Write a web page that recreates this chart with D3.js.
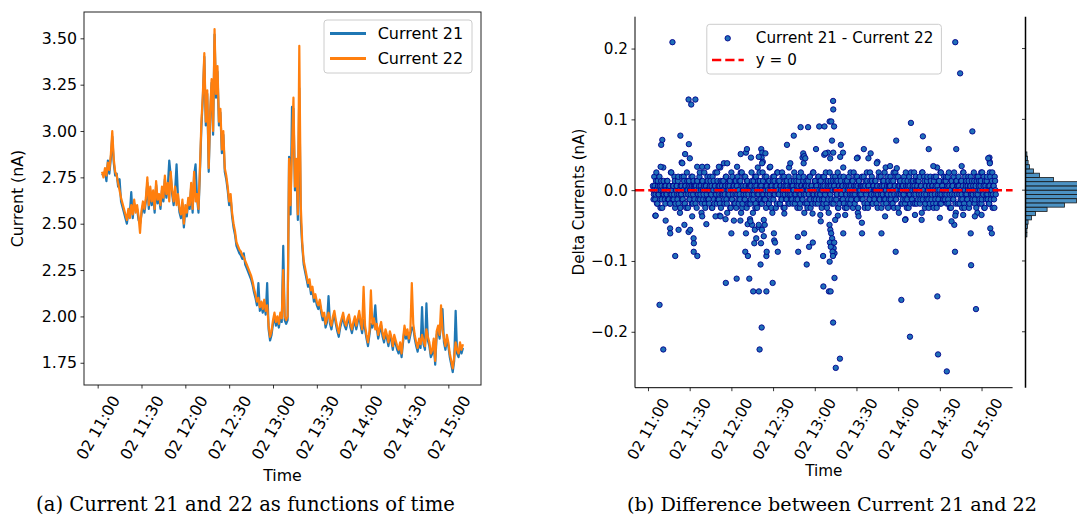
<!DOCTYPE html>
<html lang="en">
<head>
<meta charset="utf-8">
<title>Current 21 and 22</title>
<script src="https://cdn.jsdelivr.net/npm/d3@7"></script>
<style>
body { margin: 0; background: #fff; }
svg { display: block; }
</style>
</head>
<body>
<script>
// minutes after 02 11:00 ; currents sampled once a minute from 11:03
var lineStart = 3;
var current21 = [
 2.76,2.77,2.78,2.73,2.84,2.77,2.85,2.97,2.83,2.76,
 2.77,2.70,2.74,2.62,2.59,2.56,2.53,2.50,2.56,2.55,
 2.67,2.53,2.61,2.58,2.58,2.52,2.50,2.55,2.60,2.56,
 2.62,2.72,2.58,2.68,2.60,2.66,2.56,2.71,2.61,2.64,
 2.58,2.68,2.62,2.74,2.64,2.70,2.84,2.76,2.66,2.60,
 2.68,2.82,2.64,2.56,2.53,2.61,2.48,2.58,2.54,2.62,
 2.58,2.70,2.56,2.76,2.82,2.64,2.56,2.78,3.02,3.18,
 3.40,3.03,3.20,2.78,3.08,3.26,2.98,3.52,3.18,3.32,
 3.03,3.10,2.88,2.98,2.78,2.74,2.68,2.60,2.64,2.54,
 2.48,2.44,2.38,2.36,2.34,2.33,2.31,2.34,2.28,2.26,
 2.24,2.22,2.20,2.17,2.13,2.10,2.06,2.18,2.03,2.06,
 2.02,2.07,2.01,2.18,1.93,1.87,1.90,1.96,2.00,1.95,
 1.98,1.94,2.00,1.97,2.38,1.98,1.96,1.98,2.86,2.55,
 3.13,3.12,2.68,2.80,2.52,3.23,2.52,2.38,2.28,2.24,
 2.20,2.16,2.18,2.12,2.14,2.08,2.10,2.06,2.04,2.07,
 2.02,1.98,2.00,1.94,1.97,2.11,1.96,1.93,1.98,2.01,
 1.96,1.92,1.89,1.94,1.97,2.00,1.95,1.93,1.97,1.99,
 1.94,1.91,1.95,1.98,1.93,1.97,2.01,1.95,1.91,1.98,
 1.93,1.88,1.84,1.90,1.96,1.94,1.97,2.06,1.94,1.88,
 1.92,1.95,1.89,1.86,1.91,1.88,1.84,1.90,1.87,1.82,
 1.88,1.85,1.82,1.80,1.84,1.78,1.86,1.93,1.88,1.91,
 1.86,1.90,1.94,1.94,1.88,1.84,1.81,1.86,1.83,2.05,
 1.85,1.82,2.07,1.87,1.84,1.78,1.80,1.86,1.74,1.90,
 1.93,1.88,1.96,2.04,1.86,1.82,1.88,1.84,1.78,1.74,
 1.70,1.76,2.03,1.80,1.78,1.84,1.80,1.83
];
var current22 = [
 2.78,2.75,2.80,2.76,2.83,2.79,2.87,3.00,2.85,2.78,
 2.76,2.72,2.68,2.64,2.61,2.58,2.55,2.52,2.58,2.53,
 2.60,2.55,2.63,2.56,2.60,2.54,2.45,2.57,2.62,2.58,
 2.64,2.75,2.60,2.70,2.62,2.68,2.58,2.73,2.63,2.66,
 2.60,2.70,2.64,2.76,2.66,2.72,2.62,2.78,2.68,2.62,
 2.70,2.60,2.66,2.58,2.55,2.63,2.50,2.60,2.56,2.64,
 2.60,2.72,2.58,2.78,2.62,2.66,2.58,2.80,3.05,3.20,
 3.42,3.05,3.22,2.80,3.10,3.28,3.00,3.55,3.20,3.35,
 3.05,3.12,2.90,3.00,2.80,2.76,2.70,2.62,2.66,2.56,
 2.50,2.46,2.40,2.38,2.36,2.35,2.33,2.32,2.30,2.28,
 2.26,2.24,2.22,2.19,2.15,2.12,2.08,2.10,2.05,2.08,
 2.04,2.09,2.03,2.06,1.95,1.89,1.92,1.98,2.02,1.97,
 2.00,1.96,2.02,1.99,2.25,2.00,1.98,2.00,2.85,2.60,
 2.90,3.18,2.70,2.85,2.55,3.46,2.60,2.40,2.30,2.26,
 2.22,2.18,2.20,2.14,2.16,2.10,2.12,2.08,2.06,2.09,
 2.04,2.00,2.02,1.96,1.99,2.02,1.98,1.95,2.00,2.03,
 1.98,1.94,1.91,1.96,1.99,2.02,1.97,1.95,1.99,2.01,
 1.96,1.93,1.97,2.00,1.95,1.99,2.03,1.97,1.93,2.16,
 1.95,1.90,1.86,1.92,2.14,1.96,1.99,1.93,1.96,1.90,
 1.94,1.97,1.91,1.88,1.93,1.90,1.86,1.92,1.89,1.84,
 1.90,1.87,1.84,1.82,1.86,1.80,1.88,1.95,1.90,1.93,
 1.88,1.92,2.18,1.96,1.90,1.86,1.83,1.88,1.85,1.90,
 1.87,1.84,1.93,1.89,1.86,1.80,1.82,1.88,1.76,1.92,
 1.95,1.90,2.06,1.93,1.88,1.84,1.90,1.86,1.80,1.76,
 1.72,1.78,1.86,1.82,1.80,1.86,1.82,1.85
];

// Current 21 - Current 22, samples on the half minute from 11:03:30
var deltaAStart = 3.5, deltaStep = 0.5;
var deltaA = [
 .006,-.013,.019,0,-.006,.025,-.019,.013,-.006,0,.006,-.025,.013,-.013,0,.032,-.006,.006,-.019,0,
 -.006,.013,0,-.013,.006,-.019,.025,-.006,0,.006,-.013,.019,-.025,0,.006,-.006,.013,-.019,0,-.032,
 .006,-.006,.019,-.013,0,.013,-.019,.006,-.025,.025,0,-.006,.013,-.013,.006,0,-.019,.019,-.006,.006,
 -.013,0,.006,-.025,.013,-.006,0,.019,-.013,.006,-.032,.013,0,-.006,.025,-.019,.006,-.013,0,.013,
 0,-.019,.006,.013,-.006,-.025,.019,0,-.013,.006,.025,-.006,-.019,.013,0,-.013,.006,.032,-.025,-.006,
 .013,-.006,0,-.019,.006,.019,-.013,-.032,.006,0,-.006,.013,-.025,.025,-.013,0,.006,-.019,.013,-.006,
 -.025,.006,.019,-.013,0,-.006,.013,-.032,.025,-.019,.006,0,-.013,.019,-.006,-.025,.013,0,.006,-.019,
 .006,-.013,.025,-.006,-.032,.013,0,.019,-.019,.006,-.025,.032,-.006,0,.013,-.013,.006,-.019,.025,-.006,
 -.013,.019,0,-.025,.006,-.006,.013,-.019,.032,0,-.013,.006,-.032,.019,-.006,.013,0,-.025,.006,.025,
 0,-.006,.013,-.019,.006,-.013,.025,0,-.025,.019,-.006,.006,-.013,.013,0,-.019,.032,-.006,.006,-.013,
 .006,-.019,0,.013,-.006,.019,-.013,.006,-.025,0,.013,-.006,-.019,.025,.006,-.013,0,.019,-.032,.006,
 -.006,.013,-.019,0,.006,-.013,.019,-.025,.006,0,-.006,.025,-.013,.013,-.019,.006,0,-.006,.019,-.013,
 .013,-.006,.006,-.025,0,.019,-.013,.006,-.006,.025,-.019,0,.013,-.032,.006,-.006,.013,-.013,0,.019,
 -.019,.006,0,.013,-.013,-.006,.025,-.025,.006,0,.019,-.006,-.013,.006,.032,-.019,0,.013,-.006,-.025,
 .006,-.013,.019,0,-.019,.006,-.006,.013,-.025,.025,0,-.006,.006,-.013,.019,-.032,.013,0,-.006,.006,
 -.006,.019,-.013,.006,0,-.025,.013,-.006,.025,-.019,.006,0,-.013,.013,-.006,.019,-.019,.006,0,-.013,
 .013,0,-.019,.006,-.006,.025,-.013,0,.019,-.025,.006,-.006,.013,-.013,0,.032,-.019,.006,-.006,.013,
 -.013,.006,.019,-.006,0,-.019,.013,-.025,.006,.025,-.013,0,-.006,.019,-.032,.006,.013,-.006,0,-.019,
 .006,-.006,.013,-.019,.025,0,-.013,.006,-.025,.019,-.006,0,.013,-.013,.006,-.019,.025,0,-.006,.013,
 -.019,.013,0,-.006,.019,-.013,.006,-.032,.025,0,-.006,.013,-.019,.006,-.013,.019,0,-.025,.006,-.006,
 .013,-.013,.006,0,-.025,.019,-.006,.006,-.019,.032,0,-.013,.013,-.006,.025,-.019,.006,0,-.013,.019,
 -.006,0,.019,-.019,.006,-.013,.025,-.006,0,-.025,.013,.006,-.013,.019,-.006,0,-.032,.013,.006,-.019,
 .019,-.006,0,-.013,.013,-.025,.006,.025,-.019,0,-.006,.013,-.013,.006,.019,-.025,0,.006,-.006,.013,
 -.013,.006,.025,-.019,0,-.006,.013,-.032,.019,.006,-.013,0,.013,-.019,.025,-.006,.006,-.025,.013,0,
 -.006,.019,-.013,.006,-.019,.025,0,-.006,.013,-.025,.006,-.013,.019,0
];
// samples a quarter minute later, from 11:03:45
var deltaBStart = 3.75;
var deltaB = [
 0,-.006,.006,-.013,.013,0,-.019,.006,-.006,.019,-.013,0,.006,-.025,-.006,.013,0,-.013,.006,-.006,
 .013,-.013,0,.006,-.019,-.006,.025,0,-.013,.006,-.006,.013,-.019,0,.006,-.013,.019,-.006,0,-.025,
 -.006,.006,-.013,0,.019,-.019,.006,-.006,0,.013,-.025,.006,-.013,0,-.006,.019,.006,-.019,.013,0,
 .006,-.019,0,.013,-.006,-.013,.006,.025,-.006,0,-.019,.013,-.013,.006,0,-.025,.006,-.006,.019,-.013,
 -.013,0,.019,-.006,.006,-.025,0,.013,-.019,.006,-.006,0,.025,-.013,.006,-.006,-.019,.013,0,.006,
 0,.013,-.013,-.006,.006,.019,-.019,0,-.006,.013,.006,-.025,0,-.013,.019,-.006,.006,0,-.019,.013,
 .006,-.006,0,-.019,.013,-.013,.025,.006,-.025,0,-.006,.019,-.013,.006,0,.013,-.019,-.006,.006,0,
 -.019,.006,.013,0,-.013,-.006,.006,-.025,.019,0,-.006,.013,-.013,.025,.006,-.019,0,-.006,.013,-.013,
 0,-.013,.006,.019,-.006,0,-.019,.013,-.006,.006,-.025,0,.013,-.013,.019,-.006,.006,0,-.019,.025,
 .013,-.006,-.019,.006,0,-.013,.019,-.006,.006,-.025,.013,0,-.013,.006,-.006,.019,-.019,0,.013,-.006,
 -.013,.006,0,.025,-.019,-.006,.013,0,-.013,.006,.019,-.025,-.006,.006,0,-.013,.013,-.006,.006,-.019,
 .006,0,-.025,.013,-.006,.019,-.013,0,.006,-.019,.025,-.006,0,.013,-.013,.006,-.006,-.019,.019,0,
 -.006,.013,0,-.013,.006,-.019,.019,-.006,0,.013,-.025,.006,-.013,0,.025,-.006,.006,-.019,0,.013,
 .006,-.013,.019,0,-.006,.013,-.025,.006,-.019,0,.013,-.006,.006,-.013,.019,0,-.025,.006,-.006,.013,
 0,-.019,.006,-.006,.025,-.013,0,.013,-.006,.006,-.019,.019,0,-.013,.006,-.025,.013,-.006,0,.006,
 -.013,.006,0,.019,-.019,.006,-.006,0,.013,-.025,.006,-.013,.025,0,-.006,.013,-.019,.006,-.006,0,
 .013,-.006,.006,-.025,0,.019,-.013,.006,-.006,0,.013,-.019,.006,.025,-.013,0,-.006,.019,-.025,.006,
 0,.006,-.013,.013,-.019,0,.025,-.006,.006,-.013,.019,0,-.025,.006,-.006,.013,0,-.019,.006,-.013,
 -.006,.019,0,-.013,.006,-.025,.013,0,-.006,.006,-.019,.025,-.013,0,.013,-.006,.006,-.019,.019,0,
 .006,-.013,.013,0,-.019,.006,-.006,.025,-.013,0,.019,-.025,.006,-.006,.013,0,-.013,.006,-.019,.019,
 0,-.006,.006,-.019,.013,0,-.013,.019,-.025,.006,-.006,.013,0,-.019,.025,-.006,.006,-.013,0,.013,
 -.013,.013,-.006,0,.019,-.019,.006,-.025,0,.013,-.006,.006,-.013,.025,0,-.019,.013,-.006,.006,0,
 .006,-.019,0,.013,-.006,-.013,.025,0,-.025,.019,.006,-.006,-.013,0,.013,-.019,.006,.019,-.006,0,
 -.006,0,.013,-.013,.006,-.025,.019,-.006,0,.013,-.019,.006,.025,-.013,0,-.006,.019,-.025,.006,-.013,
 .013,-.006,0,-.019,.006,.019,-.013,0,.025,-.006,.006,-.025,.013,-.006
];

// points off the dense band: [minutes after 11:00, delta]
var deltaOff = [
 [17.6,.209],[10.3,.071],[9.5,.064],[23.3,.077],[29.4,.065],[24.2,.039],[26.7,.051],[30.1,.045],
 [29.2,.128],[34.1,.128],[31.1,.121],[66.7,.051],[70.5,.053],[71.2,.058],[74.1,.046],[81.5,.058],
 [82.2,.053],[81.8,.046],[82.6,.040],[100,.064],[104.9,.077],[109.8,.089],[115.2,.089],[111.2,.046],
 [111.7,.052],[112.4,.048],[120.9,.058],[123.2,.090],[127,.090],[130.7,.097],[131.9,.097],[133.9,.090],
 [133.2,.126],[133.3,.114],[132.4,.070],[138.8,.064],[126.8,.050],[129.5,.053],[133.3,.053],[140.3,.053],
 [150.9,.046],[155.3,.058],[160.2,.052],[165.1,.040],[178.6,.070],[189.2,.095],[197.8,.076],[202,.058],
 [221.1,.209],[224.6,.165],[221.8,.058],[233.4,.083],[245.7,.046],[245.9,.040],
 [9.1,.033],[24.7,.038],[35.4,.033],[39,.033],[42.6,.033],[51,.033],[54.6,.038],[57,.038],[64.1,.033],
 [79.7,.047],[82.1,.038],[84.5,.052],[88,.033],[102.4,.038],[112,.038],[113.2,.045],[127.6,.052],
 [131.1,.045],[138.3,.047],[150.3,.045],[158.6,.045],[164.6,.038],[174.2,.034],[179,.031],[205.3,.034],
 [225.7,.034],[244.8,.045],[246,.038],
 [5.3,-.036],[15.9,-.054],[16,-.061],[22,-.056],[26.2,-.049],[29.2,-.059],[30.4,-.056],[32.8,-.068],
 [42,-.048],[51.5,-.036],[55.8,-.041],[60,-.061],[70.5,-.061],[71.7,-.048],[73.4,-.041],[74.9,-.049],
 [76.9,-.056],[77.9,-.068],[79.6,-.052],[82,-.056],[83.3,-.065],[84,-.049],[90.6,-.061],[90.8,-.071],
 [98.1,-.033],[107.8,-.066],[112.3,-.061],[118.4,-.033],[130.6,-.049],[131.2,-.056],[131.8,-.061],
 [132.5,-.068],[133,-.075],[133.6,-.082],[134.2,-.089],[136.6,-.036],[140.5,-.061],[154,-.061],
 [168,-.061],[185.3,-.041],[220.4,-.049],[221.1,-.036],[232.2,-.061],[246.3,-.054],[247.4,-.061],
 [19.6,-.093],[32.9,-.087],[35.5,-.093],[33,-.075],[56,-.131],[63.8,-.125],[70,-.087],[71.9,-.093],
 [72.9,-.125],[75.7,-.143],[79.8,-.143],[85.2,-.143],[81,-.105],[81.8,-.194],[80.3,-.225],[85.2,-.093],
 [85.4,-.087],[89.7,-.131],[91.4,-.074],[93.4,-.087],[76.5,-.075],[81.3,-.075],[108.1,-.087],
 [114.2,-.105],[115.9,-.080],[118.6,-.074],[126,-.093],[126.2,-.136],[130.7,-.101],[130.2,-.143],
 [131.4,-.143],[130.9,-.074],[131.5,-.080],[132.8,-.087],[133.1,-.093],[134,-.074],[134.2,-.124],
 [133.2,-.187],[135.1,-.251],[138.1,-.238],[178.2,-.087],[182.3,-.155],[188.5,-.207],[208.2,-.150],
 [208.7,-.232],[215,-.256],[220.9,-.087],[232.5,-.106],[236,-.168],[8.3,-.162],[11,-.225],
 [5.5,-.036],[12.7,-.043],[31.8,-.037],[39,-.037],[48.6,-.037],[52.2,-.037],[61.8,-.043],[66.5,-.043],
 [73.7,-.044],[79.7,-.049],[83.3,-.042],[124,-.035],[124.3,-.044],[134.7,-.042],[141.9,-.035],
 [151.5,-.037],[153.9,-.046],[170.6,-.037],[185,-.042],[192.1,-.035],[196.9,-.042],[210,-.039],
 [218.4,-.044],[226.8,-.035],[235.2,-.037],[240,-.035]
];

// marginal histogram of the differences
var histWidth = 0.006;
var histLo = [-0.066,-0.060,-0.054,-0.048,-0.042,-0.036,-0.030,-0.024,-0.018,-0.012,
              -0.006,0.000,0.006,0.012,0.018,0.024,0.030,0.036,0.042,0.048];
var histCount = [7,7,10,13,30,50,108,195,255,300,
                 310,300,265,140,70,40,20,13,10,7];

var timeTicks = ["11:00","11:30","12:00","12:30","13:00","13:30","14:00","14:30","15:00"];
var currentTicks = [1.75,2.00,2.25,2.50,2.75,3.00,3.25,3.50];
var deltaTicks = [-0.2,-0.1,0.0,0.1,0.2];
var seriesNames = ["Current 21","Current 22"];
var captions = ["(a) Current 21 and 22 as functions of time","(b) Difference between Current 21 and 22"];

var day = new Date(2023, 0, 2, 11, 0, 0);
function at(min) { return new Date(day.getTime() + min * 60000); }
function hm(s) { var p = s.split(":"); return new Date(2023, 0, 2, +p[0], +p[1]); }

var W = 1077, H = 516;
var svg = d3.select("body").append("svg")
	.attr("width", W).attr("height", H)
	.style("font-family", "'DejaVu Sans', sans-serif");
svg.append("rect").attr("width", W).attr("height", H).attr("fill", "#fff");

var tickDates = timeTicks.map(hm);
var fmtTime = d3.timeFormat("%d %H:%M");

function styleAxis(g, fs) {
	g.attr("font-family", null).attr("font-size", fs);
	g.select(".domain").remove();
	g.selectAll(".tick line").attr("stroke", "#000").attr("stroke-width", 0.8);
	g.selectAll(".tick text").attr("fill", "#000");
}
// matplotlib style: rotated 60deg, box centred under the tick
function rotateLabels(g, top) {
	g.selectAll(".tick text").each(function() {
		var t = d3.select(this);
		var L = this.getComputedTextLength();
		var fs = parseFloat(g.attr("font-size"));
		var bh = L * Math.sin(Math.PI / 3) + fs * 1.16 * 0.5;
		t.attr("y", null).attr("dy", null)
			.attr("text-anchor", "middle").attr("dominant-baseline", "central")
			.attr("transform", "translate(0," + (top + bh / 2) + ") rotate(-60)");
	});
}

// ---------- (a) currents vs time
var xA = d3.scaleTime().domain([at(-9.35), at(262.35)]).range([84, 481]);
var yA = d3.scaleLinear().domain([1.630, 3.642]).range([385, 12]);

var line = d3.line()
	.x(function(d, i) { return xA(at(lineStart + i)); })
	.y(function(d) { return yA(d); });

svg.append("path").datum(current21).attr("d", line)
	.attr("fill", "none").attr("stroke", "#1f77b4").attr("stroke-width", 2.2).attr("stroke-linejoin", "round");
svg.append("path").datum(current22).attr("d", line)
	.attr("fill", "none").attr("stroke", "#ff7f0e").attr("stroke-width", 2.2).attr("stroke-linejoin", "round");

svg.append("rect").attr("x", 84).attr("y", 12).attr("width", 397).attr("height", 373)
	.attr("fill", "none").attr("stroke", "#222").attr("stroke-width", 1);

var gxA = svg.append("g").attr("transform", "translate(0,385)")
	.call(d3.axisBottom(xA).tickValues(tickDates).tickFormat(fmtTime).tickSize(3.5).tickPadding(3.5));
styleAxis(gxA, 15.8);
rotateLabels(gxA, 7.5);
var gyA = svg.append("g").attr("transform", "translate(84,0)")
	.call(d3.axisLeft(yA).tickValues(currentTicks).tickFormat(d3.format(".2f")).tickSize(3.5).tickPadding(3.5));
styleAxis(gyA, 15.8);

svg.append("text").attr("transform", "translate(17.5,198.5) rotate(-90)")
	.attr("text-anchor", "middle").attr("dominant-baseline", "central")
	.attr("font-size", 15.8).text("Current (nA)");
svg.append("text").attr("x", 282.5).attr("y", 481).attr("text-anchor", "middle")
	.attr("font-size", 15.8).text("Time");

var legA = svg.append("g");
legA.append("rect").attr("x", 324).attr("y", 20).attr("width", 148).attr("height", 53).attr("rx", 3)
	.attr("fill", "#fff").attr("fill-opacity", 0.8).attr("stroke", "#ccc");
var legColors = ["#1f77b4", "#ff7f0e"];
seriesNames.forEach(function(name, i) {
	var y = 33.5 + i * 25;
	legA.append("line").attr("x1", 330).attr("x2", 366).attr("y1", y).attr("y2", y)
		.attr("stroke", legColors[i]).attr("stroke-width", 3);
	legA.append("text").attr("x", 377.7).attr("y", y).attr("dominant-baseline", "central")
		.attr("font-size", 16).text(name);
});

// ---------- (b) differences
var xB = d3.scaleTime().domain([at(-9.35), at(262.35)]).range([635, 1012.6]);
var yB = d3.scaleLinear().domain([-0.279, 0.245]).range([387.7, 16.7]);

var pts = deltaA.map(function(v, i) { return [deltaAStart + i * deltaStep, v]; })
	.concat(deltaB.map(function(v, i) { return [deltaBStart + i * deltaStep, v]; }))
	.sort(function(a, b) { return a[0] - b[0]; })
	.concat(deltaOff);
svg.append("g").selectAll("circle").data(pts).enter().append("circle")
	.attr("cx", function(d) { return xB(at(d[0])); })
	.attr("cy", function(d) { return yB(d[1]); })
	.attr("r", 2.7)
	.attr("fill", "#1f6fb8").attr("stroke", "#00008b").attr("stroke-width", 0.9);

svg.append("line").attr("x1", 635).attr("x2", 1012.6).attr("y1", yB(0)).attr("y2", yB(0))
	.attr("stroke", "red").attr("stroke-width", 2.5).attr("stroke-dasharray", "9.25,4");

svg.append("line").attr("x1", 635).attr("x2", 635).attr("y1", 16.7).attr("y2", 387.7)
	.attr("stroke", "#000").attr("stroke-width", 1);
svg.append("line").attr("x1", 635).attr("x2", 1012.6).attr("y1", 387.7).attr("y2", 387.7)
	.attr("stroke", "#000").attr("stroke-width", 1);

var gxB = svg.append("g").attr("transform", "translate(0,387.7)")
	.call(d3.axisBottom(xB).tickValues(tickDates).tickFormat(fmtTime).tickSize(3.5).tickPadding(3.5));
styleAxis(gxB, 15.2);
rotateLabels(gxB, 7.5);
var gyB = svg.append("g").attr("transform", "translate(635,0)")
	.call(d3.axisLeft(yB).tickValues(deltaTicks).tickFormat(d3.format(".1f")).tickSize(3.5).tickPadding(3.5));
styleAxis(gyB, 15.2);

svg.append("text").attr("transform", "translate(579,202) rotate(-90)")
	.attr("text-anchor", "middle").attr("dominant-baseline", "central")
	.attr("font-size", 15.2).text("Delta Currents (nA)");
svg.append("text").attr("x", 823.8).attr("y", 476).attr("text-anchor", "middle")
	.attr("font-size", 15.2).text("Time");

var legB = svg.append("g");
legB.append("rect").attr("x", 706.8).attr("y", 24.3).attr("width", 234.6).attr("height", 49.7).attr("rx", 3)
	.attr("fill", "#fff").attr("fill-opacity", 0.8).attr("stroke", "#ccc");
legB.append("circle").attr("cx", 727.7).attr("cy", 38.3).attr("r", 2.7)
	.attr("fill", "#1f6fb8").attr("stroke", "#00008b").attr("stroke-width", 0.9);
legB.append("line").attr("x1", 712).attr("x2", 743.8).attr("y1", 60).attr("y2", 60)
	.attr("stroke", "red").attr("stroke-width", 2.5).attr("stroke-dasharray", "9.25,4");
legB.append("text").attr("x", 755.8).attr("y", 37.5).attr("dominant-baseline", "central")
	.attr("font-size", 15.2).text("Current 21 - Current 22");
legB.append("text").attr("x", 755.8).attr("y", 60).attr("dominant-baseline", "central")
	.attr("font-size", 15.2).text("y = 0");

// marginal histogram
var xH = d3.scaleLinear().domain([0, 260]).range([1025.5, 1077.5]);
svg.append("g").selectAll("rect").data(histLo).enter().append("rect")
	.attr("x", xH(0))
	.attr("y", function(d) { return yB(d + histWidth); })
	.attr("height", function(d) { return yB(d) - yB(d + histWidth); })
	.attr("width", function(d, i) { return xH(histCount[i]) - xH(0); })
	.attr("fill", "#1f77b4").attr("fill-opacity", 0.8)
	.attr("stroke", "#1a1a1a").attr("stroke-width", 0.8);
svg.append("line").attr("x1", 1025.5).attr("x2", 1025.5).attr("y1", 16.7).attr("y2", 387.7)
	.attr("stroke", "#000").attr("stroke-width", 1.5);
svg.append("g").selectAll("line").data(deltaTicks).enter().append("line")
	.attr("x1", 1022).attr("x2", 1025.5)
	.attr("y1", function(d) { return yB(d); }).attr("y2", function(d) { return yB(d); })
	.attr("stroke", "#000").attr("stroke-width", 0.8);

// captions (serif, sized to the reference width)
var capX = [245.5, 832], capW = [419, 410];
captions.forEach(function(c, i) {
	var t = svg.append("text").attr("x", capX[i]).attr("y", 511).attr("text-anchor", "middle")
		.style("font-family", "'DejaVu Serif', serif").attr("font-size", 18).text(c);
	var L = t.node().getComputedTextLength();
	t.attr("font-size", 18 * capW[i] / L);
});
</script>
</body>
</html>
